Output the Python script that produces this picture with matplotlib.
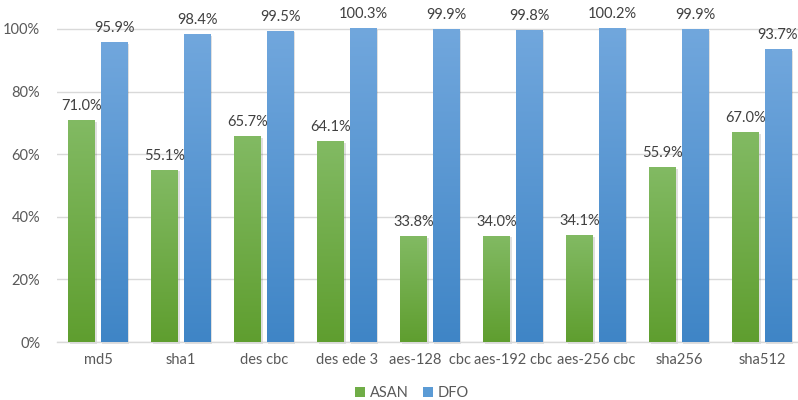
import matplotlib
matplotlib.use("Agg")
import matplotlib.pyplot as plt
import numpy as np
from matplotlib.colors import LinearSegmentedColormap
from matplotlib.patches import Rectangle

categories = ["md5", "sha1", "des cbc", "des ede 3", "aes-128  cbc", "aes-192 cbc",
              "aes-256 cbc", "sha256", "sha512"]
asan = [71.0, 55.1, 65.7, 64.1, 33.8, 34.0, 34.1, 55.9, 67.0]
dfo = [95.9, 98.4, 99.5, 100.3, 99.9, 99.8, 100.2, 99.9, 93.7]
series_names = ["ASAN", "DFO"]
yticks = [0, 20, 40, 60, 80, 100]

plt.rcParams['font.family'] = ['Lato', 'DejaVu Sans']
fig = plt.figure(figsize=(7.98, 4.0), dpi=100)
W, H = 798, 400
ax = fig.add_axes([57 / W, (400 - 342) / H, (798 - 57) / W, 342 / H])
ax.set_xlim(-0.494, 8.434)
ax.set_ylim(0, 100 * (1 + 29 / 313))

grid_c = "#d9d9d9"
ax.set_yticks(yticks)
ax.set_yticklabels([f"{v}%" for v in yticks])
ax.yaxis.grid(True, color=grid_c, linewidth=1)
ax.set_axisbelow(True)
for s in ["top", "right", "left"]:
    ax.spines[s].set_visible(False)
ax.spines["bottom"].set_color(grid_c)
ax.spines["bottom"].set_linewidth(1)
ax.tick_params(axis="both", length=0, labelsize=10.5, colors="#595959")
ax.tick_params(axis="y", pad=12)
ax.tick_params(axis="x", pad=8)
x = np.arange(len(categories))
ax.set_xticks(x)
ax.set_xticklabels(categories)

green_cm = LinearSegmentedColormap.from_list("g", ["#5f9e2f", "#82ba63"])
blue_cm = LinearSegmentedColormap.from_list("b", ["#3f85c6", "#71a7dd"])
grad = np.linspace(0, 1, 256).reshape(-1, 1)

bw = 0.325
off = 0.193
handles = []
for vals, dx, cm, col, name in [(asan, -off, green_cm, "#70ad47", "ASAN"),
                                (dfo, off, blue_cm, "#5b9bd5", "DFO")]:
    # shadow
    ax.bar(x + dx + 0.02, vals, bw, bottom=-0.6, color="#000000", alpha=0.12,
           zorder=2, clip_on=False)
    bars = ax.bar(x + dx, vals, bw, color=col, zorder=3, clip_on=False, label=name)
    handles.append(bars)
    for b, v in zip(bars, vals):
        im = ax.imshow(grad, cmap=cm, aspect="auto", origin="lower",
                       extent=[b.get_x(), b.get_x() + b.get_width(), 0, v],
                       zorder=3.5)
        im.set_clip_path(b)
        ax.annotate(f"{v:.1f}%", (b.get_x() + b.get_width() / 2, v),
                    xytext=(0, 5), textcoords="offset points", ha="center",
                    va="bottom", fontsize=10.5, color="#404040", zorder=5)
ax.set_xlim(-0.494, 8.434)
ax.set_ylim(0, 100 * (1 + 29 / 313))

leg = fig.legend(handles=handles, labels=series_names, loc="center",
                 bbox_to_anchor=(412 / W, 1 - 393 / H), ncol=2, frameon=False,
                 fontsize=10.5, handlelength=0.7, handleheight=0.7,
                 handletextpad=0.3, columnspacing=1.0)
for t in leg.get_texts():
    t.set_color("#595959")

fig.savefig("out.png", dpi=100)
